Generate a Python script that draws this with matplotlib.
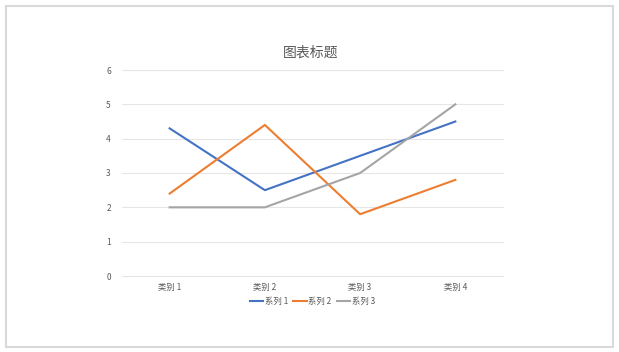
import matplotlib
matplotlib.use("Agg")
import matplotlib.pyplot as plt
from matplotlib.patches import Rectangle

plt.rcParams['font.family'] = ['Noto Sans CJK SC', 'DejaVu Sans']

categories = ["类别 1", "类别 2", "类别 3", "类别 4"]
series_names = ["系列 1", "系列 2", "系列 3"]
series1 = [4.3, 2.5, 3.5, 4.5]
series2 = [2.4, 4.4, 1.8, 2.8]
series3 = [2.0, 2.0, 3.0, 5.0]
colors = ["#4472C4", "#ED7D31", "#A5A5A5"]

fig = plt.figure(figsize=(6.19, 3.52), dpi=100)
fig.patch.set_facecolor("white")

# outer chart border
fig.add_artist(Rectangle((6 / 619, 5 / 352), 607 / 619, 341 / 352,
                         transform=fig.transFigure, fill=False,
                         edgecolor="#D9D9D9", linewidth=1.5))

ax = fig.add_axes([122 / 619, 1 - 276 / 352, 381 / 619, 206 / 352])

x = list(range(len(categories)))
for vals, name, c in zip([series1, series2, series3], series_names, colors):
    ax.plot(x, vals, color=c, linewidth=1.5, label=name, solid_joinstyle="round")

ax.set_xlim(-0.5, len(categories) - 0.5)
ax.set_ylim(0, 6)
ax.set_yticks(range(0, 7))
ax.set_xticks(x)
ax.set_xticklabels(categories)
ax.grid(axis="y", color="#E6E6E6", linewidth=0.8)
for gl in ax.get_ygridlines():
    gl.set_clip_on(False)
ax.set_axisbelow(True)
for s in ax.spines.values():
    s.set_visible(False)
ax.tick_params(axis="both", length=0, labelsize=6, labelcolor="#595959")
ax.tick_params(axis="y", pad=8)
ax.tick_params(axis="x", pad=5)

fig.text(0.502, 1 - 53 / 352, "图表标题", ha="center", va="center",
         fontsize=10, color="#595959")

ax.legend(loc="center", bbox_to_anchor=(0.5, -0.125), ncol=3, frameon=False,
          fontsize=6, labelcolor="#595959", handlelength=1.6,
          handletextpad=0.2, columnspacing=0.6)

fig.savefig("out.png", dpi=100, facecolor="white")
